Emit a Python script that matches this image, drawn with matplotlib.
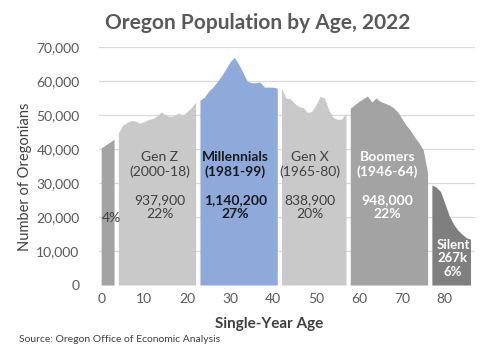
import matplotlib.pyplot as plt
import numpy as np

plt.rcParams['font.family'] = ['Lato', 'DejaVu Sans']

# Data: population by single-year age, split by generation
alpha_ages = np.arange(0, 4)
alpha_pop = [40300, 41200, 42000, 42900]

genz_ages = np.arange(4, 23)
genz_pop = [44700, 47000, 47800, 48400, 48200, 47600, 48100, 48700, 49000, 49800,
            50900, 50000, 49600, 49800, 50600, 50000, 51000, 52200, 53800]

mill_ages = np.arange(23, 42)
mill_pop = [54400, 55200, 57000, 58200, 59800, 61500, 63500, 65600, 67000, 65000,
            62500, 60000, 59500, 59500, 59700, 58200, 58200, 58200, 57900]

genx_ages = np.arange(42, 58)
genx_pop = [58000, 55000, 54800, 53500, 52500, 52200, 50800, 51000, 53000, 55500,
            55000, 51500, 49300, 48700, 48800, 50500]

boom_ages = np.arange(58, 77)
boom_pop = [52000, 53000, 54000, 54800, 55600, 53800, 55000, 54000, 53500, 53000,
            52200, 51000, 49000, 47000, 45500, 43500, 41800, 39700, 33000]

silent_ages = np.arange(77, 87)
silent_pop = [29400, 28800, 27500, 24100, 20500, 18000, 16200, 15000, 13900, 13500]

fig = plt.figure(figsize=(4.89, 3.51), dpi=100)
ax = fig.add_axes([0.2025, 0.188, 0.7685, 0.678])

ax.fill_between(alpha_ages, alpha_pop, color="#a3a3a3", lw=0, zorder=2)
ax.fill_between(genz_ages, genz_pop, color="#c9c9c9", lw=0, zorder=2)
ax.fill_between(mill_ages, mill_pop, color="#8eaadb", lw=0, zorder=2)
ax.fill_between(genx_ages, genx_pop, color="#c9c9c9", lw=0, zorder=2)
ax.fill_between(boom_ages, boom_pop, color="#a3a3a3", lw=0, zorder=2)
ax.fill_between(silent_ages, silent_pop, color="#7f7f7f", lw=0, zorder=2)

# Generation labels
txt = dict(ha="center", va="center", fontsize=10, linespacing=1.2, zorder=3)
ax.text(13.7, 29300, "Gen Z\n(2000-18)\n\n937,900\n22%", color="#404040", **txt)
ax.text(31.2, 29300, "Millennials\n(1981-99)\n\n1,140,200\n27%", color="#1a1a1a",
        fontweight="bold", **txt)
ax.text(48.6, 29300, "Gen X\n(1965-80)\n\n838,900\n20%", color="#404040", **txt)
ax.text(66.7, 29300, "Boomers\n(1946-64)\n\n948,000\n22%", color="white",
        fontweight="bold", **txt)
ax.text(2.4, 19700, "4%", color="#404040", **txt)
ax.text(81.9, 7900, "Silent\n267k\n6%", color="white", fontweight="bold",
        ha="center", va="center", fontsize=9.5, linespacing=1.15, zorder=3)

ax.set_xlim(-0.5, 87)
ax.set_ylim(0, 70000)
ax.set_xticks(np.arange(0, 90, 10))
ax.set_yticks(np.arange(0, 70001, 10000))
ax.yaxis.set_major_formatter(plt.FuncFormatter(lambda v, p: f"{int(v):,}"))
ax.tick_params(length=0, labelsize=10, labelcolor="#595959", pad=6)
ax.tick_params(axis="y", pad=14)
ax.grid(axis="y", color="#d9d9d9", lw=0.9, zorder=0)
ax.set_axisbelow(True)
for s in ax.spines.values():
    s.set_visible(False)

fig.text(25 / 489, 1 - 177 / 351, "Number of Oregonians", rotation=90,
         ha="center", va="center", fontsize=10.5, color="#404040")
fig.text(269 / 489, 1 - 324 / 351, "Single-Year Age", ha="center", va="center",
         fontsize=11, fontweight="bold", color="#404040")
fig.text(258 / 489, 1 - 23 / 351, "Oregon Population by Age, 2022", ha="center",
         va="center", fontsize=15, fontweight="bold", color="#595959")
fig.text(19 / 489, 1 - 340 / 351, "Source: Oregon Office of Economic Analysis",
         ha="left", va="center", fontsize=7.5, color="#404040")

fig.savefig("out.png", dpi=100)
